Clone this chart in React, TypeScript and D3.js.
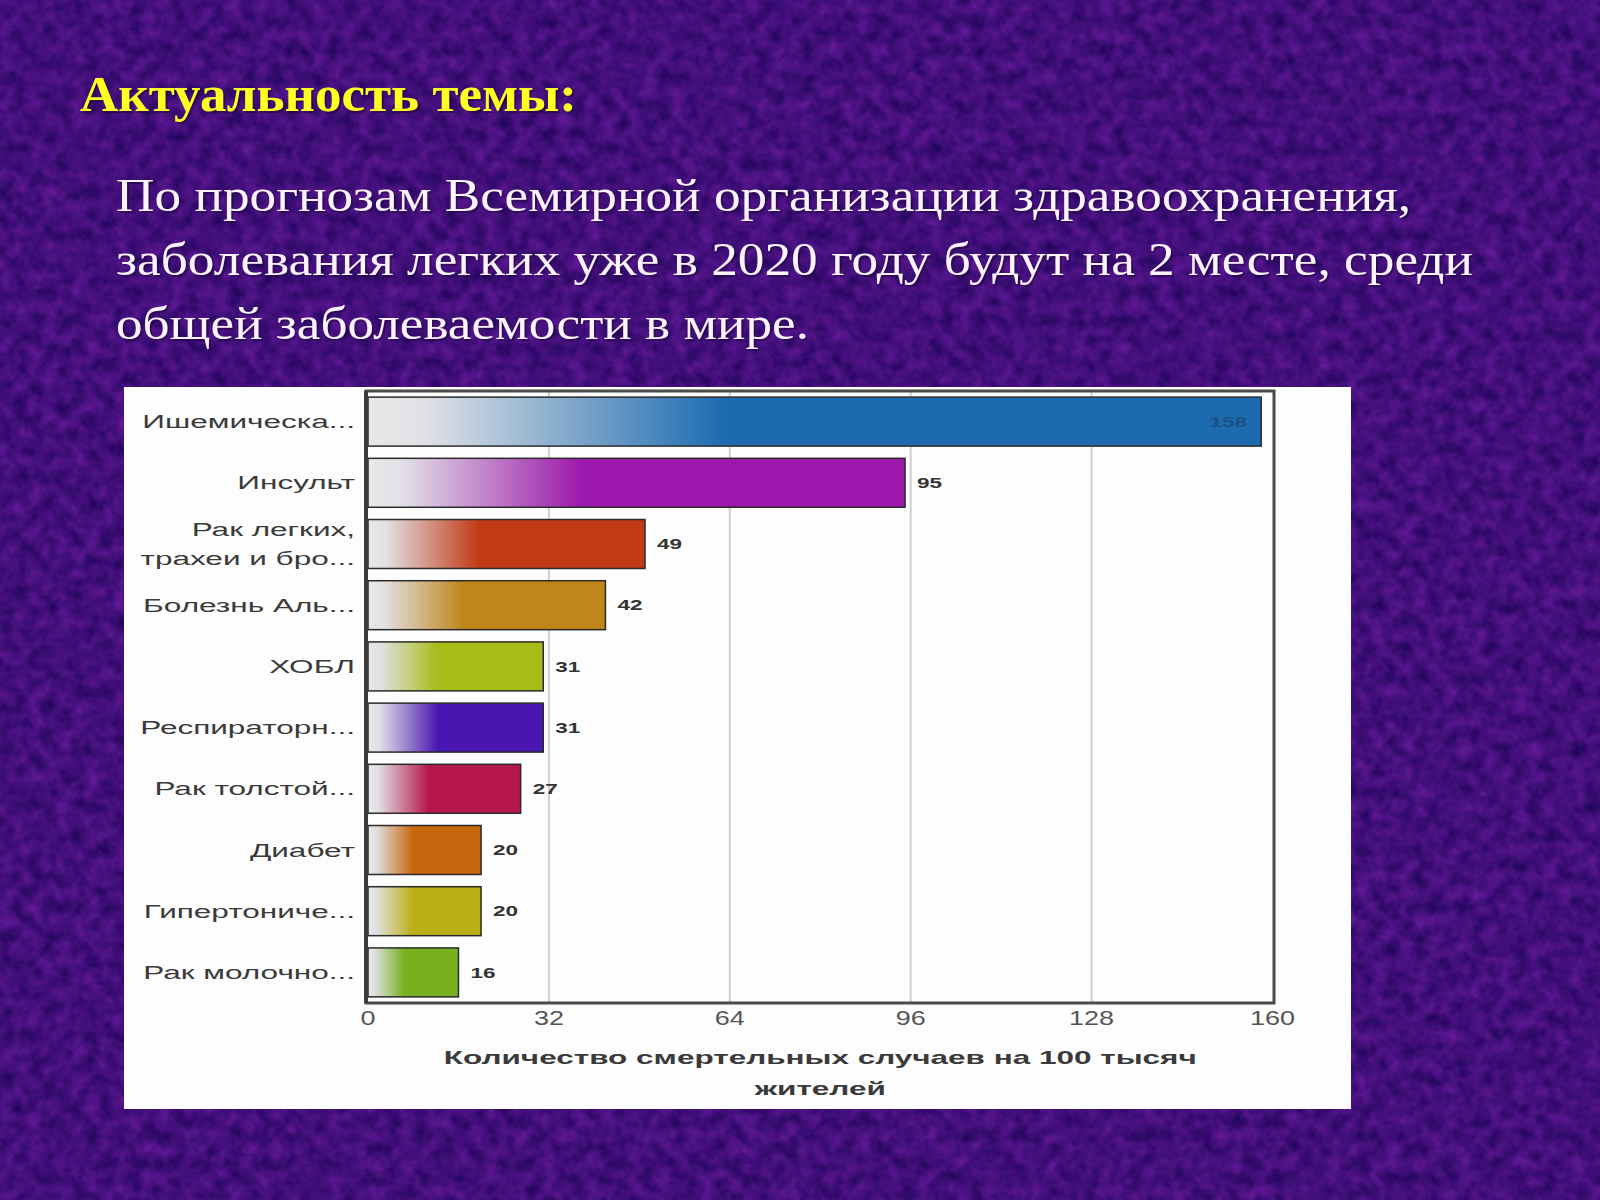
import React from "react";
import * as d3 from "d3";

const categories = [
  "Ишемическа...",
  "Инсульт",
  "Рак легких,\nтрахеи и бро...",
  "Болезнь Аль...",
  "ХОБЛ",
  "Респираторн...",
  "Рак толстой...",
  "Диабет",
  "Гипертониче...",
  "Рак молочно...",
];
const values = [158, 95, 49, 42, 31, 31, 27, 20, 20, 16];
const barColors = [
  "#1c6bb0",
  "#9c18ac",
  "#c23a16",
  "#c0861c",
  "#a8bc18",
  "#4a16b2",
  "#b5164c",
  "#c8680e",
  "#bcae16",
  "#78b020",
];
const xTicks = [0, 32, 64, 96, 128, 160];
const titleText = "Актуальность темы:";
const paragraphLines = [
  "По прогнозам Всемирной организации здравоохранения,",
  "заболевания легких уже в 2020 году будут на 2 месте, среди",
  "общей заболеваемости в мире.",
];
const paragraphWidths = [1295, 1357, 693];
const axisTitleLines = ["Количество смертельных случаев на 100 тысяч", "жителей"];

const W = 1600;
const H = 1200;
const SX = 1.66; // horizontal stretch of chart text

export default function App() {
  const plotLeft = 366;
  const plotRight = 1274;
  const plotTop = 391;
  const plotBottom = 1003;

  const x = d3.scaleLinear().domain([0, 160]).range([368, 1272.5]);
  const y = d3
    .scaleBand<string>()
    .domain(categories)
    .range([plotTop, plotBottom])
    .paddingInner(0.2)
    .paddingOuter(0.1);

  const serif = "'Liberation Serif', 'Times New Roman', serif";
  const sans = "'Liberation Sans', Arial, sans-serif";

  return (
    <svg
      width={W}
      height={H}
      viewBox={`0 0 ${W} ${H}`}
      style={{ position: "absolute", left: 0, top: 0, display: "block" }}
    >
      <defs>
        <filter
          id="noise"
          x="0"
          y="0"
          width="100%"
          height="100%"
          colorInterpolationFilters="sRGB"
        >
          <feTurbulence type="fractalNoise" baseFrequency="0.07" numOctaves="3" seed="7" />
          <feColorMatrix
            type="matrix"
            values="0.32 0 0 0 0.1
                    0.1 0 0 0 0.01
                    0.3 0 0 0 0.33
                    0 0 0 0 1"
          />
        </filter>
        {barColors.map((c, i) => (
          <linearGradient key={i} id={`g${i}`} x1="0" x2="1" y1="0" y2="0">
            <stop offset="0" stopColor="#e8e8ea" />
            <stop offset="0.06" stopColor="#e2e2e6" />
            <stop offset="0.4" stopColor={c} />
            <stop offset="1" stopColor={c} />
          </linearGradient>
        ))}
      </defs>

      {/* background */}
      <rect x={0} y={0} width={W} height={H} fill="#421080" />
      <rect x={0} y={0} width={W} height={H} filter="url(#noise)" />

      {/* title */}
      <text
        x={82}
        y={113}
        fontFamily={serif}
        fontWeight="bold"
        fontSize={50}
        fill="#1a0630"
        opacity={0.5}
        textLength={497}
        lengthAdjust="spacingAndGlyphs"
      >
        {titleText}
      </text>
      <text
        x={80}
        y={111}
        fontFamily={serif}
        fontWeight="bold"
        fontSize={50}
        fill="#ffff22"
        textLength={497}
        lengthAdjust="spacingAndGlyphs"
      >
        {titleText}
      </text>

      {/* paragraph */}
      {paragraphLines.map((line, i) => (
        <g key={i}>
          <text
            x={118}
            y={213 + i * 64}
            fontFamily={serif}
            fontSize={47}
            fill="#1a0630"
            opacity={0.45}
            textLength={paragraphWidths[i]}
            lengthAdjust="spacingAndGlyphs"
          >
            {line}
          </text>
          <text
            x={116}
            y={211 + i * 64}
            fontFamily={serif}
            fontSize={47}
            fill="#fbf4ff"
            textLength={paragraphWidths[i]}
            lengthAdjust="spacingAndGlyphs"
          >
            {line}
          </text>
        </g>
      ))}

      {/* chart panel */}
      <rect x={124} y={387} width={1227} height={722} fill="#fdfdfd" />

      {/* gridlines */}
      {xTicks.slice(1, -1).map((t) => (
        <line
          key={t}
          x1={x(t)}
          x2={x(t)}
          y1={plotTop}
          y2={plotBottom}
          stroke="#cfcfcf"
          strokeWidth={2}
        />
      ))}

      {/* bars */}
      {categories.map((c, i) => {
        const y0 = y(c)!;
        const bw = y.bandwidth();
        const v = values[i];
        const inside = v > 150;
        return (
          <g key={c}>
            <rect
              x={x(0)}
              y={y0}
              width={x(v) - x(0)}
              height={bw}
              fill={`url(#g${i})`}
              stroke="#2a2a2a"
              strokeWidth={1.5}
            />
            <text
              transform={`translate(${inside ? x(v) - 14 : x(v) + 12},${y0 + bw / 2}) scale(1.5,1)`}
              textAnchor={inside ? "end" : "start"}
              dy="0.35em"
              fontFamily={sans}
              fontWeight="bold"
              fontSize={15}
              fill={inside ? "#1d4f86" : "#333"}
            >
              {v}
            </text>
          </g>
        );
      })}

      {/* category labels */}
      {categories.map((c) => {
        const lines = c.split("\n");
        const cy = y(c)! + y.bandwidth() / 2;
        return lines.map((ln, j) => (
          <text
            key={c + j}
            transform={`translate(355,${cy + (j - (lines.length - 1) / 2) * 29}) scale(${SX},1)`}
            textAnchor="end"
            dy="0.35em"
            fontFamily={sans}
            fontSize={19}
            fill="#3a3a3a"
          >
            {ln}
          </text>
        ));
      })}

      {/* frame */}
      <rect
        x={plotLeft}
        y={plotTop}
        width={plotRight - plotLeft}
        height={plotBottom - plotTop}
        fill="none"
        stroke="#4a4a4a"
        strokeWidth={3}
      />
      <line x1={plotLeft} x2={plotLeft} y1={plotTop} y2={plotBottom} stroke="#3a3a3a" strokeWidth={4} />

      {/* x tick labels */}
      {xTicks.map((t) => (
        <text
          key={t}
          transform={`translate(${x(t)},${1018}) scale(1.35,1)`}
          textAnchor="middle"
          dy="0.35em"
          fontFamily={sans}
          fontSize={20}
          fill="#555"
        >
          {t}
        </text>
      ))}

      {/* axis title */}
      {axisTitleLines.map((ln, i) => (
        <text
          key={i}
          transform={`translate(${(x(0) + x(160)) / 2},${1058 + i * 31}) scale(1.75,1)`}
          textAnchor="middle"
          dy="0.35em"
          fontFamily={sans}
          fontWeight="bold"
          fontSize={18}
          fill="#3a3a3a"
        >
          {ln}
        </text>
      ))}
    </svg>
  );
}
